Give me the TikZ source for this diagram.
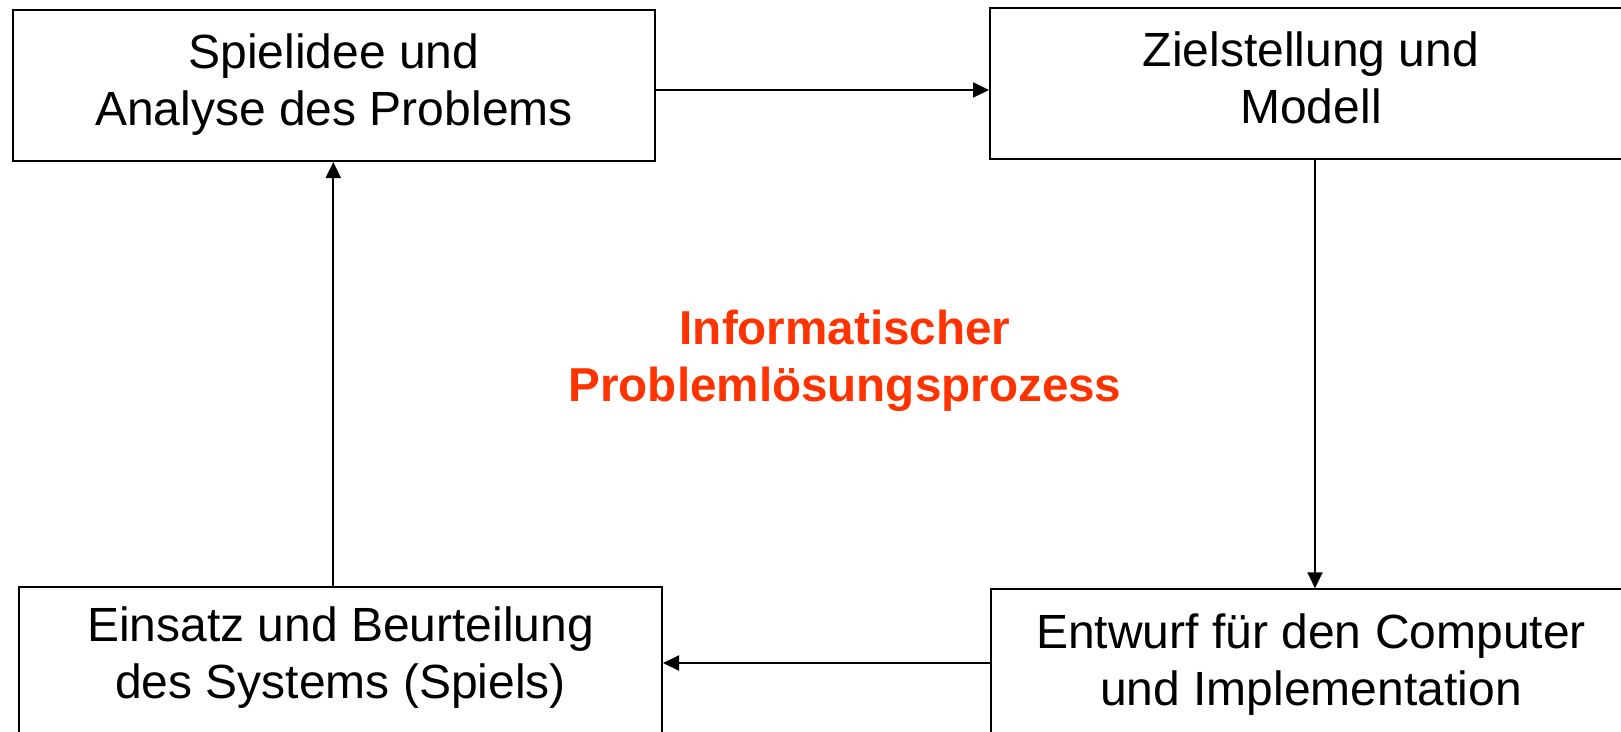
\documentclass[tikz,border=0pt]{standalone}
\usepackage{fontspec}
\setmainfont{Liberation Sans}
\usetikzlibrary{arrows.meta}
\definecolor{titlered}{HTML}{FF3300}
\newcommand{\topstrut}{\rule{0pt}{40pt}}
\newcommand{\botstrut}{\rule[-12pt]{0pt}{12pt}}
\begin{document}
\begin{tikzpicture}[x=1pt,y=-1pt,
  box/.style={draw=black,line width=2pt,rectangle,inner sep=0pt},
  label/.style={align=center,inner sep=0pt,font=\fontsize{48}{57.5}\selectfont},
  title/.style={align=center,inner sep=0pt,text=titlered,font=\fontsize{47.6}{56.7}\selectfont\bfseries},
  arr/.style={line width=2pt,-{Triangle[length=16pt,width=15pt]}}]
\useasboundingbox (0,0) rectangle (1621,731);
\fill[white] (0,0) rectangle (1621,731);
% boxes
\node[box,minimum width=642pt,minimum height=151pt] (tl) at (334,85.5) {};
\node[box,minimum width=642pt,minimum height=150.5pt] (tr) at (1311,83.25) {};
\node[box,minimum width=643pt,minimum height=150.3pt] (bl) at (340.5,661.85) {};
\node[box,minimum width=641pt,minimum height=150.7pt] (br) at (1311.3,664.6) {};
% texts
\node[label] (tltext) at (334,82.8) {\topstrut Spielidee und\\Analyse des Problems\botstrut};
\node[label] (trtext) at (1311,81.2) {\topstrut Zielstellung und\\Modell\botstrut};
\node[label] (bltext) at (340.5,656.2) {\topstrut Einsatz und Beurteilung\\des Systems (Spiels)\botstrut};
\node[label] (brtext) at (1311,662.8) {\topstrut Entwurf für den Computer\\und Implementation\botstrut};
\node[title] (center) at (845,359.2) {\topstrut Informatischer\\Problemlösungsprozess\botstrut};
% connectors
\draw[arr] (tl.east |- 0,90) -- (tr.west |- 0,90);
\draw[arr] (tr.south -| 1315,0) -- (br.north -| 1315,0);
\draw[arr] (br.west |- 0,663) -- (bl.east |- 0,663);
\draw[arr] (bl.north -| 333.3,0) -- (tl.south -| 333.3,0);
\end{tikzpicture}
\end{document}
